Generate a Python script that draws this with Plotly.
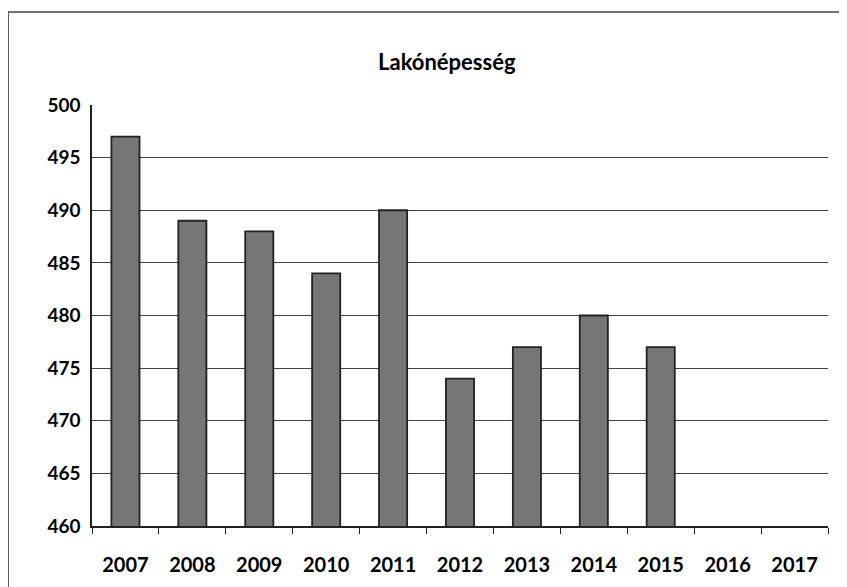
import plotly.graph_objects as go

# Données
years = ['2007', '2008', '2009', '2010', '2011', '2012', '2013', '2014', '2015', '2016', '2017']
population = [497, 489, 488, 484, 490, 474, 477, 480, 477, None, None]
y_ticks = [460, 465, 470, 475, 480, 485, 490, 495, 500]

fig = go.Figure()

fig.add_trace(go.Bar(
    x=years,
    y=population,
    marker=dict(color='#767676', line=dict(color='#222', width=1.8)),
    width=0.42,
))

# la page ajoute une marge de 8 px autour du graphique
fig.update_layout(
    title=dict(
        text='<b>Lakónépesség</b>',
        x=0.523, xanchor='center', y=0.907, yanchor='middle',
        font=dict(family='Lato', size=22, color='black'),
    ),
    width=839, height=579,
    margin=dict(l=84, r=19, t=97, b=61),
    paper_bgcolor='white', plot_bgcolor='white',
    showlegend=False,
    font=dict(family='Lato', color='black'),
    xaxis=dict(
        type='category',
        showline=True, linecolor='#222', linewidth=1.5,
        ticks='outside', tickson='boundaries', ticklen=6, tickcolor='#222',
        tickfont=dict(size=20, family='Lato', color='black', weight='bold'),
        ticklabelstandoff=20,
        showgrid=False,
        automargin=False,
    ),
    yaxis=dict(
        range=[460, 500],
        tickvals=y_ticks,
        showline=True, linecolor='#222', linewidth=1.5,
        showgrid=True, gridcolor='#444', gridwidth=1.2,
        tickfont=dict(size=19, family='Lato', color='black', weight='bold'),
        ticks='', ticklabelstandoff=6,
        zeroline=False,
        automargin=False,
    ),
    shapes=[
        dict(type='rect', xref='paper', yref='paper',
             x0=-0.114, x1=1.016, y0=-0.2, y1=1.221,
             line=dict(color='#444', width=1.5)),
    ],
)

fig.write_html("out.html")
